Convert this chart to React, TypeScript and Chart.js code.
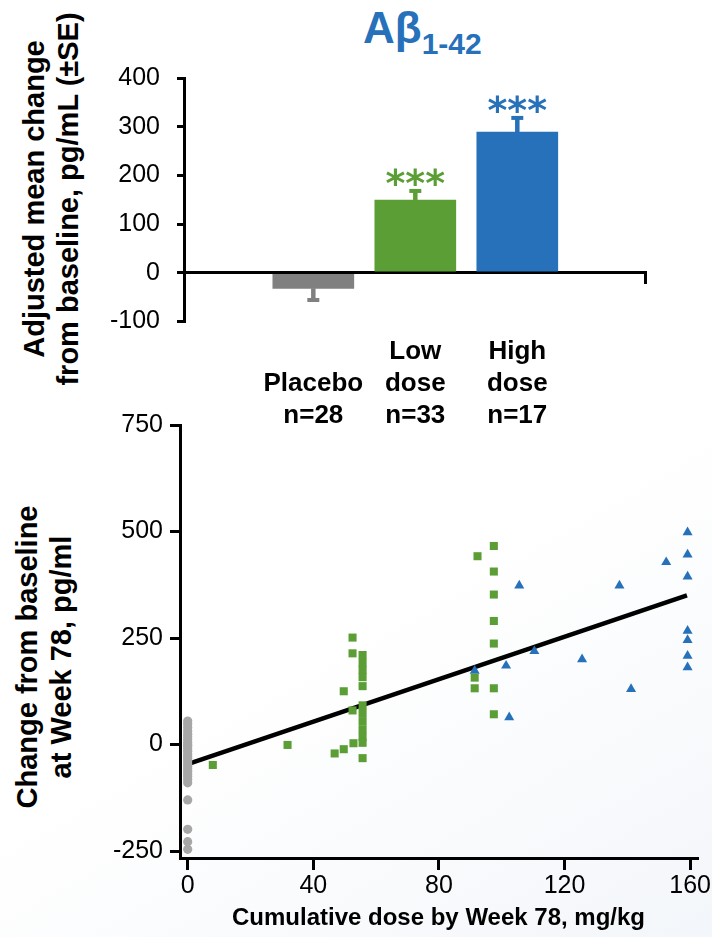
import { useEffect, useRef } from 'react'
import { Chart, registerables } from 'chart.js'
Chart.register(...registerables)

const FONT = "'Liberation Sans', Arial, Helvetica, sans-serif"
const GREY = '#808080'
const GREEN = '#5C9E36'
const BLUE = '#2671B9'
const DOT_GREY = '#A7A7A7'
const barColors = [GREY, GREEN, BLUE]

// top panel: adjusted mean change from baseline (pg/mL, ±SE)
const groupLabels = [['', 'Placebo', 'n=28'], ['Low', 'dose', 'n=33'], ['High', 'dose', 'n=17']]
const meanChange = [-32, 149, 289]
const seEnd = [-56, 168, 318]
const signif = ['', '***', '***']
const meanTicks = [-100, 0, 100, 200, 300, 400]

// bottom panel: individual change vs cumulative dose
const placeboChange = [55, 48, 40, 32, 24, 18, 12, 5, 0, -4, -10, -16, -22, -28, -33, -39, -45, -51, -57, -63, -69, -75, -82, -90, -130, -199, -228, -246]
const lowDose = [8, 31.8, 46.8, 49.7, 52.8, 55.7, 55.7, 55.7, 55.7, 55.7, 55.7, 55.7, 52.5, 49.7, 55.7, 55.7, 55.7, 55.7, 55.7, 52.5, 52.5, 92.3, 97.5, 97.5, 97.5, 97.5, 97.5, 97.5, 97.5, 91.4, 91.4]
const lowChange = [-48, -1, -21, -11, 3, -32, 18, 4, 92, 74, 55, 36, 80, 125, 137, 210, 192, 175, 158, 214, 251, 442, 466, 406, 352, 290, 237, 132, 71, 157, 132]
const highDose = [91.4, 105.6, 101.4, 102.4, 110.4, 125.6, 137.5, 141.2, 152.4, 159.2, 159.2, 159.2, 159.2, 159.2, 159.2, 159.2]
const highChange = [173, 373, 185, 64, 219, 200, 373, 130, 428, 498, 446, 394, 267, 245, 208, 181]
const fitDose = [0, 159]
const fitChange = [-46, 350]
const doseTicks = [0, 40, 80, 120, 160]
const changeTicks = [-250, 0, 250, 500, 750]

function MeanChangeChart() {
  const ref = useRef<HTMLCanvasElement>(null)

  useEffect(() => {
    if (!ref.current) return
    const errorBars = {
      id: 'errorBars',
      afterDatasetsDraw(chart: any) {
        const { ctx } = chart
        const y = chart.scales.y
        chart.getDatasetMeta(0).data.forEach((bar: any, i: number) => {
          const x = bar.x
          const yFrom = y.getPixelForValue(meanChange[i])
          const yTo = y.getPixelForValue(seEnd[i])
          ctx.save()
          ctx.strokeStyle = barColors[i]
          ctx.lineWidth = 4.5
          ctx.beginPath(); ctx.moveTo(x, yFrom); ctx.lineTo(x, yTo); ctx.stroke()
          ctx.lineWidth = 4
          ctx.beginPath(); ctx.moveTo(x - 6, yTo); ctx.lineTo(x + 6, yTo); ctx.stroke()
          if (signif[i]) {
            ctx.font = "bold 38px 'DejaVu Sans'"
            ctx.fillStyle = barColors[i]
            ctx.textAlign = 'center'
            ctx.textBaseline = 'alphabetic'
            const m = ctx.measureText(signif[i])
            const centre = yTo - 2 - 12
            ctx.fillText(signif[i], x, centre + (m.actualBoundingBoxAscent - m.actualBoundingBoxDescent) / 2)
          }
          ctx.restore()
        })
      },
    }

    const chart = new Chart(ref.current, {
      type: 'bar',
      data: {
        datasets: [{
          data: meanChange.map((v, i) => ({ x: i + 1, y: v })),
          backgroundColor: barColors,
          barThickness: 81,
        }],
      },
      options: {
        responsive: true, maintainAspectRatio: false, animation: false,
        layout: { padding: { top: 78, right: 66.5, bottom: 0, left: 0 } },
        plugins: { legend: { display: false }, tooltip: { enabled: false } },
        scales: {
          x: {
            type: 'linear', min: -0.268, max: 4.257, offset: false,
            afterBuildTicks: (s: any) => { s.ticks = groupLabels.map((_, i) => ({ value: i + 1 })) },
            afterFit: (s: any) => { s.height = 118.6; s.paddingLeft = 0; s.paddingRight = 0 },
            grid: { display: false, drawTicks: false, offset: false },
            border: { display: false },
            ticks: {
              autoSkip: false, maxRotation: 0, padding: 14, color: '#000',
              font: { family: FONT, size: 26, weight: 'bold', lineHeight: 1.23 },
              callback: (v: any) => groupLabels[Number(v) - 1],
            },
          },
          zero: {
            type: 'linear', axis: 'x', position: { y: 0 }, min: -0.268, max: 4.257, offset: false, z: 1,
            afterBuildTicks: (s: any) => { s.ticks = [{ value: s.max }] },
            afterFit: (s: any) => { s.paddingLeft = 0; s.paddingRight = 0 },
            grid: { drawOnChartArea: false, offset: false, tickLength: 10, color: '#000', lineWidth: 3 },
            border: { color: '#000', width: 3 },
            ticks: { display: false },
          },
          y: {
            min: -100, max: 400,
            afterBuildTicks: (s: any) => { s.ticks = meanTicks.map(value => ({ value })) },
            afterFit: (s: any) => { s.width = 184; s.paddingTop = 0; s.paddingBottom = 0 },
            grid: { drawOnChartArea: false, tickLength: 7, color: '#000', lineWidth: 3 },
            border: { color: '#000', width: 3 },
            ticks: { padding: 17, color: '#000', font: { family: FONT, size: 25 } },
          },
        } as any,
      },
      plugins: [errorBars],
    })
    return () => chart.destroy()
  }, [])

  return <canvas ref={ref} />
}

function DoseChart() {
  const ref = useRef<HTMLCanvasElement>(null)

  useEffect(() => {
    if (!ref.current) return
    const chart = new Chart(ref.current, {
      type: 'scatter',
      data: {
        datasets: [
          {
            type: 'line', label: 'Fit',
            data: fitDose.map((x, i) => ({ x, y: fitChange[i] })),
            borderColor: '#000', borderWidth: 4.5, pointRadius: 0, order: 1,
          },
          {
            label: 'Placebo',
            data: placeboChange.map(y => ({ x: 0, y })),
            pointStyle: 'circle', pointRadius: 4.6, backgroundColor: DOT_GREY, borderWidth: 0, order: 0,
          },
          {
            label: 'Low dose',
            data: lowDose.map((x, i) => ({ x, y: lowChange[i] })),
            pointStyle: 'rect', pointRadius: 5.7, backgroundColor: GREEN, borderWidth: 0, order: 0,
          },
          {
            label: 'High dose',
            data: highDose.map((x, i) => ({ x, y: highChange[i] })),
            pointStyle: 'triangle', pointRadius: 5.8, backgroundColor: BLUE, borderWidth: 0, order: 0,
          },
        ] as any,
      },
      options: {
        responsive: true, maintainAspectRatio: false, animation: false,
        layout: { padding: { top: 25, right: 15, bottom: 0, left: 0 } },
        plugins: { legend: { display: false }, tooltip: { enabled: false } },
        scales: {
          x: {
            type: 'linear', min: -2.45, max: 162.2,
            afterBuildTicks: (s: any) => { s.ticks = doseTicks.map(value => ({ value })) },
            afterFit: (s: any) => { s.height = 79; s.paddingLeft = 0; s.paddingRight = 0 },
            grid: { drawOnChartArea: false, tickLength: 12, color: '#000', lineWidth: 3 },
            border: { color: '#000', width: 3 },
            ticks: { padding: 1, color: '#000', font: { family: FONT, size: 25 } },
            title: {
              display: true, text: 'Cumulative dose by Week 78, mg/kg', color: '#000',
              font: { family: FONT, size: 24, weight: 'bold' }, padding: { top: 0, bottom: 4.6 },
            },
          },
          y: {
            min: -266.4, max: 750,
            afterBuildTicks: (s: any) => { s.ticks = changeTicks.map(value => ({ value })) },
            afterFit: (s: any) => { s.width = 180; s.paddingTop = 0; s.paddingBottom = 0 },
            grid: { drawOnChartArea: false, tickLength: 10, color: '#000', lineWidth: 3 },
            border: { color: '#000', width: 3 },
            ticks: { padding: 7, color: '#000', font: { family: FONT, size: 25 } },
          },
        } as any,
      },
    })
    return () => chart.destroy()
  }, [])

  return <canvas ref={ref} />
}

function RotatedTitle({ cx, cy, lines }: { cx: number; cy: number; lines: string[] }) {
  const w = 440
  const h = lines.length * 34
  return (
    <div style={{
      position: 'absolute', left: cx - w / 2, top: cy - h / 2, width: w, height: h,
      transform: 'rotate(-90deg)', textAlign: 'center', whiteSpace: 'nowrap',
      fontSize: 29, lineHeight: '34px', fontWeight: 'bold', color: '#000',
    }}>
      {lines.map(l => <div key={l}>{l}</div>)}
    </div>
  )
}

export default function App() {
  return (
    <div style={{
      position: 'absolute', left: 0, top: 0, width: 712, height: 937, overflow: 'hidden', fontFamily: FONT,
      background: 'linear-gradient(150deg, #ffffff 62%, #f3f6fa 100%)',
    }}>
      <div style={{ position: 'absolute', left: 363, top: 6, fontSize: 44, lineHeight: '44px', fontWeight: 'bold', color: BLUE, whiteSpace: 'nowrap' }}>
        Aβ<span style={{ fontSize: 30, verticalAlign: '-11px' }}>1-42</span>
      </div>
      <RotatedTitle cx={50.8} cy={199} lines={['Adjusted mean change', 'from baseline, pg/mL (±SE)']} />
      <RotatedTitle cx={44} cy={656.5} lines={['Change from baseline', 'at Week 78, pg/ml']} />
      <div style={{ position: 'absolute', left: 0, top: 0, width: 712, height: 440 }}>
        <MeanChangeChart />
      </div>
      <div style={{ position: 'absolute', left: 0, top: 400, width: 712, height: 537 }}>
        <DoseChart />
      </div>
    </div>
  )
}
